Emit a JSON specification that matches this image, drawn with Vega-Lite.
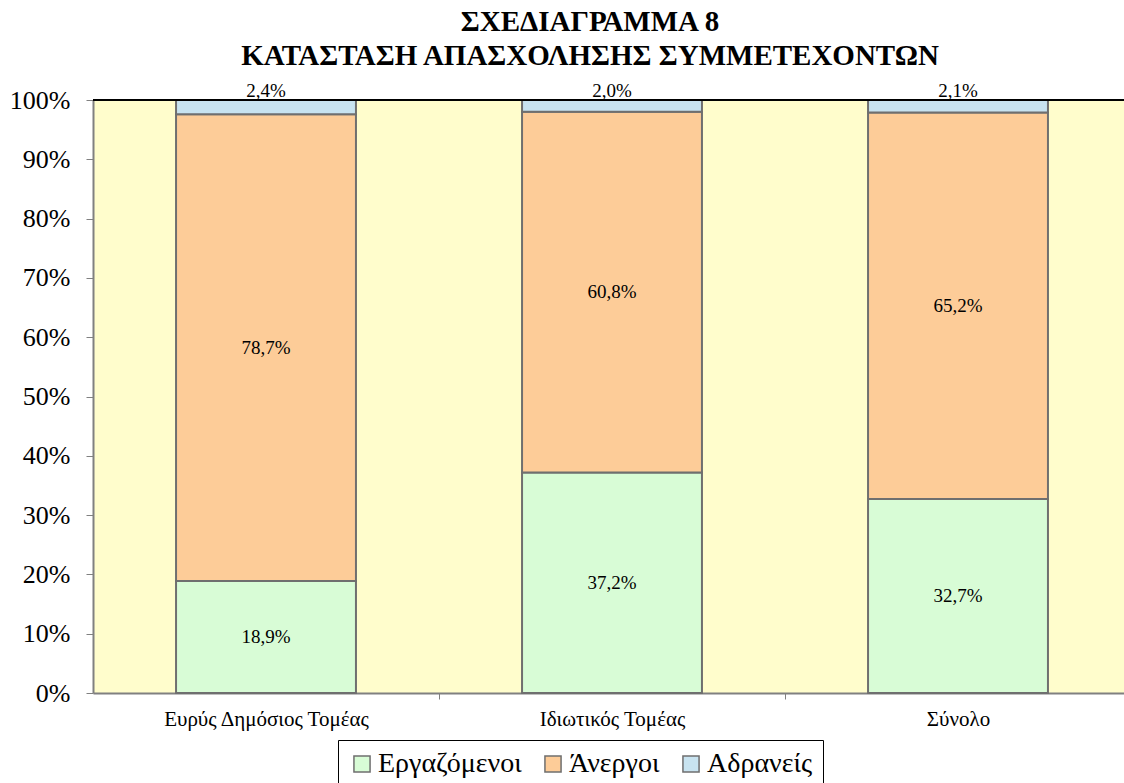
{
  "$schema": "https://vega.github.io/schema/vega-lite/v6.json",
  "autosize": "none",
  "padding": {"left": 93, "top": 100, "right": 0, "bottom": 90},
  "width": 1038,
  "height": 593,
  "background": "white",
  "config": {
    "locale": {"number": {"decimal": ",", "thousands": ".", "grouping": [3], "currency": ["", " €"]}},
    "font": "Liberation Serif",
    "view": {"fill": "#FFFDCC", "stroke": null}
  },
  "title": {
    "text": ["ΣΧΕΔΙΑΓΡΑΜΜΑ 8", "ΚΑΤΑΣΤΑΣΗ ΑΠΑΣΧΟΛΗΣΗΣ ΣΥΜΜΕΤΕΧΟΝΤΩΝ"],
    "font": "Liberation Serif",
    "fontSize": 29,
    "fontWeight": "bold",
    "color": "black",
    "anchor": "middle",
    "dx": -22,
    "lineHeight": 34,
    "offset": 11
  },
  "data": {
    "values": [
      {"cat": "Ευρύς Δημόσιος Τομέας", "status": "Εργαζόμενοι", "ord": 1, "value": 0.189},
      {"cat": "Ευρύς Δημόσιος Τομέας", "status": "Άνεργοι", "ord": 2, "value": 0.787},
      {"cat": "Ευρύς Δημόσιος Τομέας", "status": "Αδρανείς", "ord": 3, "value": 0.024},
      {"cat": "Ιδιωτικός Τομέας", "status": "Εργαζόμενοι", "ord": 1, "value": 0.372},
      {"cat": "Ιδιωτικός Τομέας", "status": "Άνεργοι", "ord": 2, "value": 0.608},
      {"cat": "Ιδιωτικός Τομέας", "status": "Αδρανείς", "ord": 3, "value": 0.020},
      {"cat": "Σύνολο", "status": "Εργαζόμενοι", "ord": 1, "value": 0.327},
      {"cat": "Σύνολο", "status": "Άνεργοι", "ord": 2, "value": 0.652},
      {"cat": "Σύνολο", "status": "Αδρανείς", "ord": 3, "value": 0.021}
    ]
  },
  "layer": [
    {
      "mark": {"type": "bar", "stroke": "#6f6f6f", "strokeWidth": 2},
      "encoding": {
        "x": {
          "field": "cat",
          "type": "nominal",
          "sort": null,
          "scale": {"paddingInner": 0.48, "paddingOuter": 0.24},
          "axis": {
            "title": null,
            "labelAngle": 0,
            "labelFont": "Liberation Serif",
            "labelFontSize": 21,
            "labelColor": "black",
            "labelPadding": 9,
            "labelLimit": 0,
            "labelOffset": -173,
            "domainColor": "#808080",
            "domainWidth": 2,
            "tickColor": "#808080",
            "tickSize": 6,
            "tickOffset": 173
          }
        },
        "y": {
          "field": "value",
          "type": "quantitative",
          "stack": "zero",
          "scale": {"domain": [0, 1]},
          "axis": {
            "title": null,
            "format": ".0%",
            "values": [0, 0.1, 0.2, 0.3, 0.4, 0.5, 0.6, 0.7, 0.8, 0.9, 1],
            "grid": false,
            "labelFont": "Liberation Serif",
            "labelFontSize": 26,
            "labelColor": "black",
            "labelPadding": 16,
            "tickSize": 7,
            "tickColor": "#808080",
            "domainColor": "#808080",
            "domainWidth": 2
          }
        },
        "order": {"field": "ord", "type": "quantitative"},
        "color": {
          "field": "status",
          "type": "nominal",
          "sort": ["Εργαζόμενοι", "Άνεργοι", "Αδρανείς"],
          "scale": {
            "domain": ["Εργαζόμενοι", "Άνεργοι", "Αδρανείς"],
            "range": ["#D8FCD6", "#FDCC98", "#C8E3F0"]
          },
          "legend": {
            "title": null,
            "orient": "none",
            "legendX": 245,
            "legendY": 640,
            "direction": "horizontal",
            "symbolType": "square",
            "symbolSize": 260,
            "symbolStrokeColor": "#6f6f6f",
            "symbolStrokeWidth": 1.5,
            "labelFont": "Liberation Serif",
            "labelFontSize": 28,
            "labelColor": "black",
            "labelOffset": 2,
            "columnPadding": 17,
            "strokeColor": "black",
            "padding": 10
          }
        }
      }
    },
    {
      "transform": [{"filter": "datum.ord < 3"}],
      "mark": {"type": "text", "font": "Liberation Serif", "fontSize": 19, "color": "black", "baseline": "middle"},
      "encoding": {
        "x": {"field": "cat", "type": "nominal", "sort": null},
        "y": {"field": "value", "type": "quantitative", "stack": "zero", "bandPosition": 0.5},
        "order": {"field": "ord", "type": "quantitative"},
        "text": {"field": "value", "type": "quantitative", "format": ".1%"}
      }
    },
    {
      "transform": [{"filter": "datum.ord == 3"}],
      "mark": {"type": "text", "font": "Liberation Serif", "fontSize": 19, "color": "black", "baseline": "bottom", "dy": 1},
      "encoding": {
        "x": {"field": "cat", "type": "nominal", "sort": null},
        "y": {"datum": 1, "type": "quantitative"},
        "text": {"field": "value", "type": "quantitative", "format": ".1%"}
      }
    },
    {
      "mark": {"type": "rule", "color": "black", "strokeWidth": 2},
      "encoding": {"y": {"datum": 1, "type": "quantitative"}}
    }
  ]
}
